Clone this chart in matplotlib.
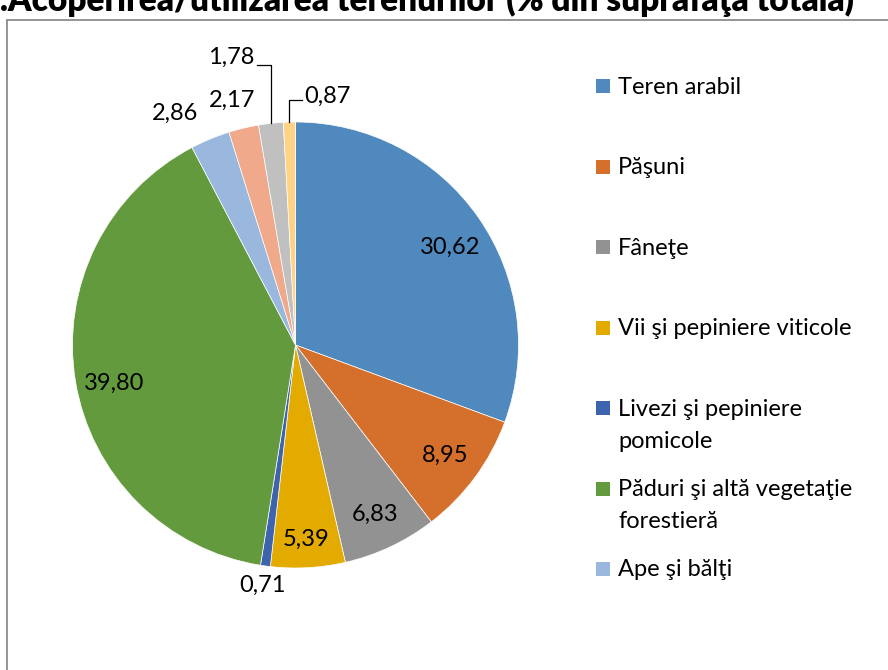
import textwrap
import numpy as np
import matplotlib
matplotlib.use("Agg")
import matplotlib.pyplot as plt
from matplotlib.patches import Rectangle

plt.rcParams['font.family'] = ['Lato', 'DejaVu Sans']

# land use shares, % of total area
categories = ['Teren arabil', 'Păşuni', 'Fâneţe', 'Vii şi pepiniere viticole',
              'Livezi şi pepiniere pomicole', 'Păduri şi altă vegetaţie forestieră',
              'Ape şi bălţi', 'Construcţii', 'Căi de comunicaţii şi căi ferate',
              'Terenuri degradate şi neproductive']
values = [30.62, 8.95, 6.83, 5.39, 0.71, 39.80, 2.86, 2.17, 1.78, 0.87]
colors = ['#4f89bd', '#d5702c', '#929292', '#e3aa00', '#3e64ae',
          '#649a3e', '#9ab8de', '#f0a98a', '#c0c0c0', '#ffd285']
title = 'Fig.1.Acoperirea/utilizarea terenurilor (% din suprafaţa totală)'
legend_shown = 7  # the legend box only has room for the first entries

W, H = 888, 670
fig = plt.figure(figsize=(W / 100, H / 100), dpi=100)

# chart area border (runs off the right and bottom edges)
fig.add_artist(Rectangle((7 / W, -0.1), 1.2, (H - 20) / H + 0.1,
                         transform=fig.transFigure, fill=False,
                         edgecolor='#8c8c8c', lw=1.3))

fig.text(854 / W, (H - 11) / H, title, ha='right', va='baseline',
         fontsize=24, fontweight='heavy')

cx, cy, r = 295.5, 345, 223
ax = fig.add_axes([(cx - r) / W, (H - cy - r) / H, 2 * r / W, 2 * r / H])
wedges, _ = ax.pie(values, colors=colors, startangle=90, counterclock=False,
                   radius=1, wedgeprops=dict(linewidth=0.5, edgecolor='white'))
ax.set_xlim(-1, 1)
ax.set_ylim(-1, 1)
ax.axis('off')

# label distance from centre and small angular nudges per slice
label_dist = [0.82, 0.835, 0.84, 0.875, 1.087, 0.83, 1.17, 1.135, None, None]
label_shift = [-2.5, 0, 0, 0, 0, 2.5, 5, 1, 0, 0]

for i, (w, v) in enumerate(zip(wedges, values)):
    txt = f'{v:.2f}'.replace('.', ',')
    mid = np.deg2rad((w.theta1 + w.theta2) / 2)
    if label_dist[i] is not None:
        a = mid + np.deg2rad(label_shift[i])
        ax.text(label_dist[i] * np.cos(a), label_dist[i] * np.sin(a), txt,
                ha='center', va='center', fontsize=17, clip_on=False)
        continue
    # thin slices at the top get leader lines
    x0, y0 = np.cos(mid), np.sin(mid)
    if i == 8:
        ey, ex = 1.256, -0.173
        ax.plot([x0, x0, ex], [y0, ey, ey], color='black', lw=0.9, clip_on=False)
        ax.text(ex - 0.01, 1.291, txt, ha='right', va='center', fontsize=17,
                clip_on=False)
    else:
        ey, ex = 1.099, 0.029
        ax.plot([x0, x0, ex], [y0, ey, ey], color='black', lw=0.9, clip_on=False)
        ax.text(ex + 0.01, 1.117, txt, ha='left', va='center', fontsize=17,
                clip_on=False)

# legend
for i in range(legend_shown):
    y = 86 + 80.5 * i
    fig.add_artist(Rectangle((596 / W, (H - y - 7) / H), 14 / W, 14 / H,
                             transform=fig.transFigure, color=colors[i], lw=0))
    for j, line in enumerate(textwrap.wrap(categories[i], 25)):
        fig.text(618 / W, (H - y - 1 - 32 * j) / H, line, ha='left',
                 va='center', fontsize=17)

fig.savefig('out.png', dpi=100)
